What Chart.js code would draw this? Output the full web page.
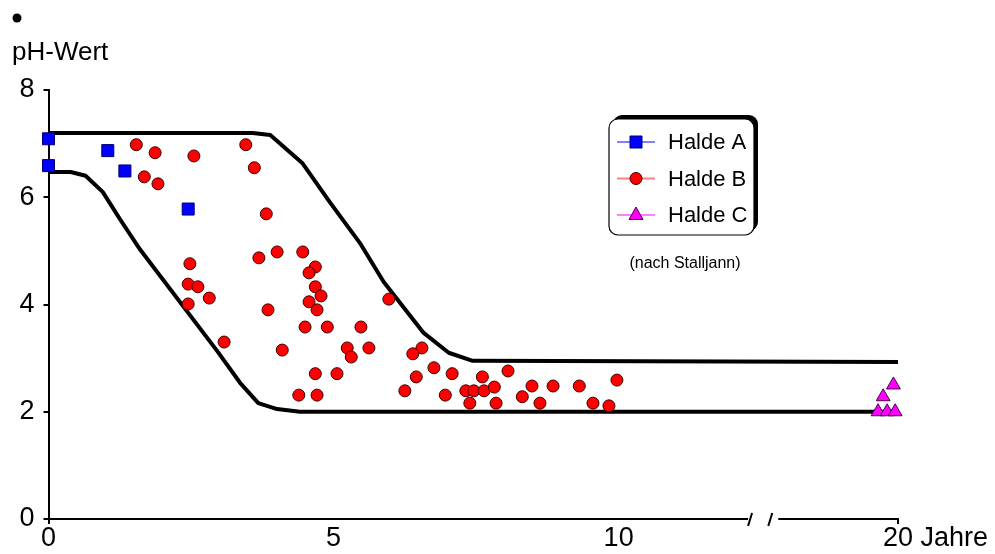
<!DOCTYPE html>
<html>
<head>
<meta charset="utf-8">
<script src="https://cdn.jsdelivr.net/npm/chart.js@4.4.0/dist/chart.umd.min.js"></script>
<style>
  html, body { margin: 0; padding: 0; background: #fff; }
</style>
</head>
<body>
<canvas id="phChart" width="995" height="554"></canvas>
<script>
// Messwerte (Jahre, pH)
const haldeA_x = [0, 0, 1.04, 1.34, 2.45];
const haldeA_y = [7.09, 6.59, 6.87, 6.49, 5.78];

const haldeB_x = [1.54, 1.87, 2.55, 1.68, 1.92, 3.46, 3.61, 3.82, 3.69, 4.01,
                  4.46, 4.68, 4.57, 4.68, 4.78, 4.57, 4.71, 3.85, 2.48, 2.45,
                  2.62, 2.82, 2.45, 5.97, 4.50, 4.89, 5.48, 4.10, 5.24, 5.31,
                  5.62, 4.68, 5.06, 4.39, 4.71, 6.55, 6.39, 6.45, 6.25, 3.08,
                  6.76, 7.08, 6.96, 7.32, 7.46, 7.64, 7.82, 7.61, 7.39, 7.85,
                  8.06, 8.31, 8.48, 8.62, 8.85, 9.31, 9.55, 9.83, 9.97];
const haldeB_y = [6.98, 6.83, 6.77, 6.38, 6.25, 6.98, 6.55, 5.69, 4.87, 4.98,
                  4.98, 4.70, 4.59, 4.33, 4.16, 4.05, 3.90, 3.90, 4.76, 4.38,
                  4.33, 4.12, 4.01, 4.10, 3.58, 3.58, 3.58, 3.15, 3.19, 3.02,
                  3.19, 2.71, 2.71, 2.31, 2.31, 3.19, 3.08, 2.65, 2.39, 3.30,
                  2.82, 2.71, 2.31, 2.39, 2.39, 2.39, 2.46, 2.65, 2.16, 2.16,
                  2.76, 2.28, 2.48, 2.16, 2.48, 2.48, 2.16, 2.11, 2.59];

const haldeC_x = [14.82, 14.64, 14.55, 14.71, 14.85];
const haldeC_y = [2.50, 2.28, 2.00, 2.00, 2.00];

// Grenzkurven
const oben_x = [0, 3.58, 3.89, 4.19, 4.45, 4.94, 5.46, 5.88, 6.58, 7.02, 7.44, 14.9];
const oben_y = [7.2, 7.2, 7.16, 6.88, 6.64, 5.90, 5.15, 4.42, 3.47, 3.10, 2.95, 2.93];
const unten_x = [0, 0.39, 0.65, 0.95, 1.26, 1.61, 2.96, 3.36, 3.68, 4.01, 4.41, 14.9];
const unten_y = [6.47, 6.47, 6.40, 6.10, 5.58, 5.02, 3.13, 2.54, 2.16, 2.05, 2.0, 2.0];

// Achsen
const xTicks = [0, 5, 10, 14.9];
const xTickLabels = ['0', '5', '10', '20'];
const yTicks = [0, 2, 4, 6, 8];
const xBruch = [12.27, 12.8];

const FONT = "'Liberation Sans', Arial, sans-serif";
Chart.defaults.font.family = FONT;
Chart.defaults.color = '#000';

function punkte(xs, ys) {
  return xs.map((x, i) => ({ x: x, y: ys[i] }));
}

function markerZeichnen(ctx, style, x, y, farbe, rand) {
  ctx.fillStyle = farbe;
  ctx.strokeStyle = rand;
  ctx.lineWidth = 1;
  ctx.beginPath();
  if (style === 'rect') {
    ctx.rect(x - 6, y - 6, 12, 12);
  } else if (style === 'triangle') {
    ctx.moveTo(x, y - 8);
    ctx.lineTo(x + 7, y + 4.5);
    ctx.lineTo(x - 7, y + 4.5);
    ctx.closePath();
  } else {
    ctx.arc(x, y, 6, 0, Math.PI * 2);
  }
  ctx.fill();
  ctx.stroke();
}

// Achse mit Bruch, Titel, Legende
const zeichnung = {
  id: 'zeichnung',
  afterDraw(chart) {
    const ctx = chart.ctx;
    const xs = chart.scales.x;
    const ys = chart.scales.y;
    const y0 = ys.getPixelForValue(0);
    const b1 = xs.getPixelForValue(xBruch[0]);
    const b2 = xs.getPixelForValue(xBruch[1]);
    ctx.save();

    // x-Achse
    ctx.strokeStyle = '#000';
    ctx.lineWidth = 2;
    ctx.beginPath();
    ctx.moveTo(xs.left - 1, y0);
    ctx.lineTo(b1, y0);
    ctx.moveTo(b2, y0);
    ctx.lineTo(xs.right + 1, y0);
    ctx.stroke();
    ctx.lineWidth = 2;
    ctx.beginPath();
    ctx.moveTo(b1, y0 + 7);
    ctx.lineTo(b1 + 4, y0 - 6);
    ctx.moveTo(b2 - 10, y0 + 7);
    ctx.lineTo(b2 - 6, y0 - 6);
    ctx.stroke();

    // "Jahre" hinter der 20
    ctx.font = '27px ' + FONT;
    ctx.fillStyle = '#000';
    const items = xs.getLabelItems ? xs.getLabelItems() : [];
    const last = items[items.length - 1];
    if (last) {
      const tx = last.options.translation[0];
      const ty = last.options.translation[1] + (last.textOffset || 0);
      ctx.textBaseline = last.options.textBaseline || 'middle';
      ctx.textAlign = 'left';
      ctx.fillText('Jahre', tx + ctx.measureText('20').width / 2 + ctx.measureText(' ').width, ty);
    }

    // Titel
    ctx.textBaseline = 'alphabetic';
    ctx.textAlign = 'left';
    ctx.font = '26px ' + FONT;
    ctx.fillText('pH-Wert', 12, 60);
    ctx.beginPath();
    ctx.arc(17, 18, 4.5, 0, Math.PI * 2);
    ctx.fill();

    // Legende
    const lx = 609, ly = 119, lw = 145, lh = 116;
    ctx.fillStyle = '#000';
    ctx.beginPath();
    ctx.roundRect(lx + 4, ly - 4, lw, lh, 9);
    ctx.fill();
    ctx.fillStyle = '#fff';
    ctx.strokeStyle = '#000';
    ctx.lineWidth = 1.2;
    ctx.beginPath();
    ctx.roundRect(lx, ly, lw, lh, 9);
    ctx.fill();
    ctx.stroke();

    ctx.font = '22px ' + FONT;
    chart.data.datasets.slice(0, 3).forEach((ds, i) => {
      const yy = 142 + i * 36.5;
      ctx.strokeStyle = ds.linienFarbe;
      ctx.lineWidth = 2;
      ctx.beginPath();
      ctx.moveTo(617, yy);
      ctx.lineTo(655, yy);
      ctx.stroke();
      markerZeichnen(ctx, ds.pointStyle, 636, yy, ds.backgroundColor, ds.borderColor);
      ctx.fillStyle = '#000';
      ctx.textBaseline = 'middle';
      ctx.fillText(ds.label, 668, yy + 1);
    });

    ctx.font = '16px ' + FONT;
    ctx.textAlign = 'center';
    ctx.fillText('(nach Stalljann)', 685, 264);
    ctx.restore();
  }
};

const ctx = document.getElementById('phChart').getContext('2d');
const chart = new Chart(ctx, {
  type: 'scatter',
  data: {
    datasets: [
      { label: 'Halde A', data: punkte(haldeA_x, haldeA_y), pointStyle: 'rect', pointRadius: 8.5,
        backgroundColor: '#0000ff', borderColor: '#00006e', borderWidth: 1, linienFarbe: '#8080ff',
        order: 0, clip: false },
      { label: 'Halde B', data: punkte(haldeB_x, haldeB_y), pointStyle: 'circle', pointRadius: 6,
        backgroundColor: '#ff0000', borderColor: '#3a0000', borderWidth: 1, linienFarbe: '#ff8080',
        order: 1, clip: false },
      { label: 'Halde C', data: punkte(haldeC_x, haldeC_y), pointStyle: 'triangle', pointRadius: 8,
        backgroundColor: '#ff00ff', borderColor: '#4a004a', borderWidth: 1, linienFarbe: '#ff80ff',
        order: 0, clip: false },
      { label: 'oben', data: punkte(oben_x, oben_y), showLine: true, pointRadius: 0,
        borderColor: '#000', borderWidth: 4, borderJoinStyle: 'round', order: 5, clip: false },
      { label: 'unten', data: punkte(unten_x, unten_y), showLine: true, pointRadius: 0,
        borderColor: '#000', borderWidth: 4, borderJoinStyle: 'round', order: 5, clip: false }
    ]
  },
  options: {
    responsive: false,
    animation: false,
    events: [],
    layout: { padding: { top: 90, right: 97, left: 0, bottom: 0 } },
    plugins: {
      legend: { display: false },
      tooltip: { enabled: false }
    },
    scales: {
      x: {
        type: 'linear',
        min: 0,
        max: 14.9,
        afterBuildTicks: s => { s.ticks = xTicks.map(v => ({ value: v })); },
        afterFit: s => { s.height = 35; },
        ticks: {
          callback: v => xTickLabels[xTicks.indexOf(v)],
          font: { size: 27 },
          color: '#000',
          padding: -2,
          maxRotation: 0,
          autoSkip: false
        },
        grid: {
          drawOnChartArea: false,
          tickLength: 5,
          lineWidth: 2,
          color: c => (c.tick && (c.tick.value === 0 || c.tick.value === 14.9)) ? '#000' : 'rgba(0,0,0,0)'
        },
        border: { display: false }
      },
      y: {
        min: 0,
        max: 8,
        afterBuildTicks: s => { s.ticks = yTicks.map(v => ({ value: v })); },
        afterFit: s => { s.width = 48.5; },
        ticks: { font: { size: 27 }, color: '#000', padding: 9 },
        grid: { drawOnChartArea: false, tickLength: 5, lineWidth: 2, color: '#000' },
        border: { display: true, color: '#000', width: 2 }
      }
    }
  },
  plugins: [zeichnung]
});
</script>
</body>
</html>
